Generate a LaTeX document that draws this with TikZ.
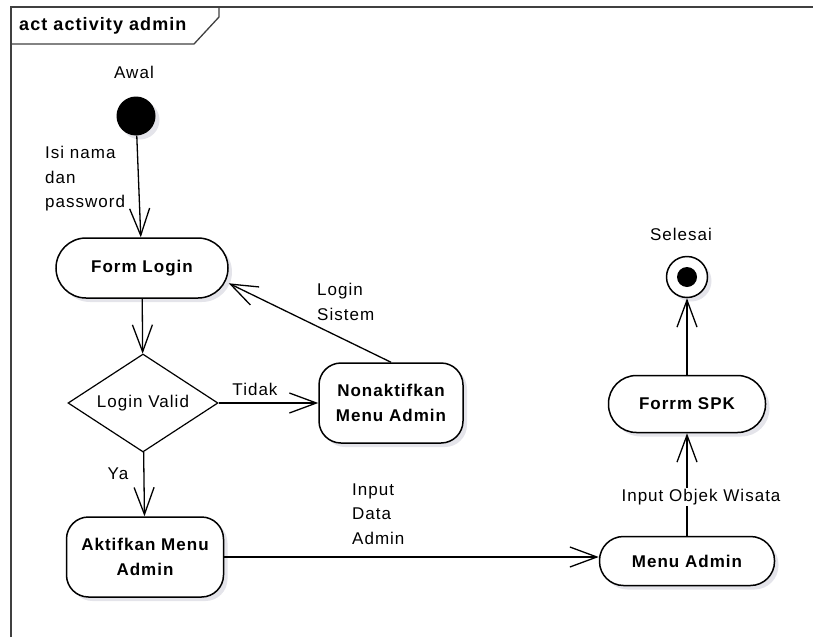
\documentclass[tikz,border=0pt]{standalone}
\usepackage{fontspec}
\setmainfont{Liberation Sans}[LetterSpace=6]
\usetikzlibrary{arrows.meta,shapes.geometric,shadows}

\definecolor{shadowgray}{RGB}{228,228,234}
\newcommand{\diagfont}{\fontsize{17}{24.5}\selectfont}

\tikzset{
  softshadow/.style={drop shadow={shadow xshift=4pt, shadow yshift=-4pt, fill=shadowgray, opacity=1}},
  action/.style={draw, line width=1.5pt, fill=white, rounded corners=#1, align=center,
    inner sep=0pt, font=\diagfont\bfseries, softshadow},
  action/.default=22pt,
  decision/.style={diamond, draw, line width=1.2pt, aspect=1.5, inner sep=0pt,
    minimum width=150pt, minimum height=98pt, font=\diagfont},
  initstate/.style={circle, fill=black, minimum size=39pt, inner sep=0pt, softshadow},
  finalstate/.style={circle, draw, fill=white, line width=1.5pt, minimum size=41pt, inner sep=0pt, softshadow},
  finaldot/.style={circle, fill=black, minimum size=20pt, inner sep=0pt},
  flow/.style={-{Straight Barb[length=27pt,width=20pt,line width=1.3pt]}, line width=1.3pt},
  lbl/.style={font=\diagfont, inner sep=1pt},
}

\begin{document}
\begin{tikzpicture}[x=1pt,y=-1pt]
\useasboundingbox (0,0) rectangle (813,637);

% frame
\draw[line width=1.3pt, black!75] (11,637) -- (11,7) -- (813,7);
\draw[line width=1.3pt, black!75] (11,44) -- (194,44) -- (219,17) -- (219,7);
\node[anchor=west, inner sep=0pt, font=\fontsize{18}{20}\selectfont\bfseries] (title) at (19,26) {act activity admin};

% states and actions
\node[initstate] (awal) at (136,116) {};
\node[lbl] (awallbl) at (134,72) {Awal};

\node[action=30pt, minimum width=172pt, minimum height=60pt] (formlogin) at (142,268) {Form Login};
\node[decision] (valid) at (143,403) {Login Valid};
\node[action, minimum width=144pt, minimum height=80pt] (nonaktif) at (391,403) {Nonaktifkan\\Menu Admin};
\node[action, minimum width=157pt, minimum height=80pt] (aktif) at (145,557) {Aktifkan Menu\\Admin};
\node[action=24pt, minimum width=175pt, minimum height=49pt] (menuadmin) at (687,561) {Menu Admin};
\node[action=28pt, minimum width=157pt, minimum height=57pt] (formspk) at (687,404) {Forrm SPK};

\node[finalstate] (selesai) at (687,277) {};
\node[finaldot] (selesaidot) at (selesai) {};
\node[lbl] (selesailbl) at (681,234) {Selesai};

% flows
\draw[flow] (awal) -- (formlogin);
\draw[flow] (formlogin) -- (valid);
\draw[flow] (valid) -- (nonaktif);
\draw[flow] (nonaktif.north) -- (formlogin.-10);
\draw[flow] (valid) -- (aktif);
\draw[flow] (aktif.east) -- (aktif.east -| menuadmin.west);
\draw[flow] (menuadmin) -- (formspk);
\draw[flow] (formspk) -- (selesai);

% flow labels
\node[lbl, anchor=west, align=left] (isilbl) at (44,179) {Isi nama\\dan\\password};
\node[lbl, anchor=west, align=left] (sistemlbl) at (316,302) {Login\\Sistem};
\node[lbl] (tidaklbl) at (255,389) {Tidak};
\node[lbl] (yalbl) at (118,474) {Ya};
\node[lbl, anchor=west, align=left] (inputlbl) at (351,514) {Input\\Data\\Admin};
\node[lbl, fill=white] (objeklbl) at (701,497) {Input Objek Wisata};

\end{tikzpicture}
\end{document}
